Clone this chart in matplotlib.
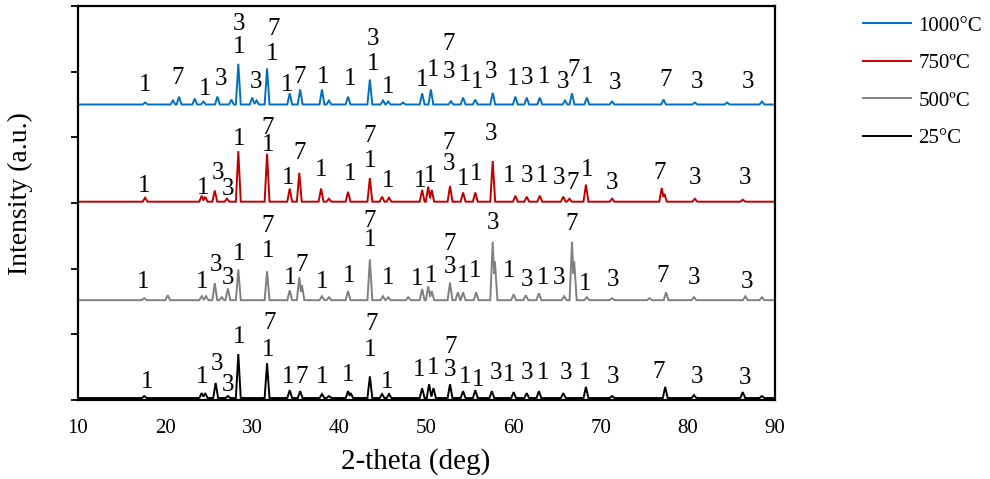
import numpy as np
import matplotlib
matplotlib.use("Agg")
import matplotlib.pyplot as plt

plt.rcParams['font.family'] = ['Liberation Serif', 'DejaVu Serif']

# ---------------- data ----------------
series_names = ["1000°C", "750ºC", "500ºC", "25°C"]
series_colors = ["#0070C0", "#C00000", "#808080", "#000000"]
series_base = [4.50, 3.02, 1.52, 0.03]

# peak positions (2-theta) and heights (a.u. above each trace's baseline)
blue_pos = [17.7, 20.9, 21.6, 23.4, 24.4, 26.0, 27.6, 28.4, 30.0, 30.5, 31.7, 34.3, 35.5,
            38.0, 38.8, 41.0, 43.5, 45.0, 45.6, 47.3, 49.5, 50.5, 52.8, 54.2, 55.6, 57.6,
            60.2, 61.5, 63.0, 65.9, 66.7, 68.4, 71.3, 77.2, 80.8, 84.5, 88.5]
blue_h = [0.03, 0.06, 0.12, 0.09, 0.045, 0.12, 0.075, 0.62, 0.105, 0.06, 0.55, 0.17, 0.23,
          0.23, 0.06, 0.12, 0.38, 0.06, 0.045, 0.03, 0.17, 0.23, 0.05, 0.105, 0.075, 0.18,
          0.12, 0.105, 0.105, 0.06, 0.17, 0.105, 0.045, 0.075, 0.03, 0.03, 0.045]

red_pos = [17.7, 24.2, 24.6, 25.7, 27.1, 28.4, 31.7, 34.3, 35.4, 37.9, 38.8, 41.0, 43.5,
           44.9, 45.7, 49.5, 50.2, 50.6, 52.7, 54.2, 55.6, 57.6, 60.2, 61.5, 63.0, 65.7,
           66.4, 68.3, 71.3, 77.0, 77.3, 80.8, 86.3]
red_h = [0.06, 0.09, 0.075, 0.17, 0.045, 0.77, 0.73, 0.20, 0.44, 0.20, 0.045, 0.15, 0.36,
         0.075, 0.06, 0.18, 0.23, 0.18, 0.24, 0.14, 0.14, 0.62, 0.09, 0.075, 0.09, 0.075,
         0.045, 0.26, 0.045, 0.21, 0.12, 0.045, 0.03]

gray_pos = [17.6, 20.3, 24.2, 24.7, 25.7, 26.5, 27.2, 28.4, 31.7, 34.3, 35.4, 35.7, 38.0,
            38.8, 41.0, 43.5, 45.0, 45.6, 47.9, 49.5, 50.2, 50.6, 52.7, 53.6, 54.2, 55.7,
            57.6, 57.85, 60.0, 61.4, 62.9, 65.8, 66.7, 66.95, 68.4, 71.3, 75.6, 77.5, 80.7,
            86.6, 88.5]
gray_h = [0.03, 0.075, 0.06, 0.06, 0.26, 0.045, 0.18, 0.47, 0.44, 0.15, 0.35, 0.23, 0.06,
          0.045, 0.14, 0.62, 0.06, 0.045, 0.045, 0.17, 0.21, 0.14, 0.27, 0.12, 0.12, 0.12,
          0.89, 0.60, 0.09, 0.075, 0.105, 0.06, 0.89, 0.60, 0.045, 0.03, 0.03, 0.12, 0.045,
          0.06, 0.045]

black_pos = [17.6, 24.2, 24.6, 25.8, 27.2, 28.4, 31.7, 34.3, 35.5, 38.0, 38.8, 41.0, 41.3,
             43.5, 44.9, 45.7, 49.5, 50.3, 50.8, 52.7, 54.2, 55.6, 57.5, 60.0, 61.5, 62.9,
             65.7, 68.3, 71.3, 77.4, 80.7, 86.3, 88.5]
black_h = [0.03, 0.075, 0.075, 0.23, 0.03, 0.67, 0.53, 0.12, 0.105, 0.06, 0.03, 0.105, 0.075,
           0.33, 0.06, 0.06, 0.15, 0.21, 0.15, 0.21, 0.105, 0.12, 0.105, 0.09, 0.075, 0.105,
           0.075, 0.17, 0.03, 0.17, 0.045, 0.09, 0.03]

# phase labels: x (2-theta), y (a.u.), text
blue_lx = [17.69, 21.48, 24.58, 26.41, 28.48, 28.48, 30.43, 32.50, 32.27, 33.99, 35.48, 38.12,
           41.22, 43.86, 43.86, 45.58, 49.48, 50.75, 52.58, 52.58, 54.42, 55.80, 57.40, 59.93,
           61.54, 63.49, 65.67, 66.93, 68.42, 71.64, 77.49, 81.05, 86.90]
blue_ly = [4.79, 4.91, 4.73, 4.89, 5.73, 5.38, 4.85, 5.65, 5.27, 4.80, 4.92, 4.92,
           4.89, 5.50, 5.11, 4.77, 4.88, 5.03, 5.42, 5.00, 4.95, 4.85, 5.00, 4.89,
           4.91, 4.92, 4.85, 5.03, 4.92, 4.82, 4.88, 4.85, 4.85]
blue_lt = ["1", "7", "1", "3", "3", "1", "3", "7", "1", "1", "7", "1",
           "1", "3", "1", "1", "1", "1", "7", "3", "1", "1", "3", "1",
           "3", "1", "3", "7", "1", "3", "7", "3", "3"]

red_lx = [17.58, 24.35, 26.07, 27.22, 28.48, 31.81, 31.81, 34.10, 35.48, 37.89, 41.22, 43.51,
          43.51, 45.58, 49.25, 50.40, 52.58, 52.58, 54.19, 55.68, 57.40, 59.47, 61.54, 63.26,
          65.21, 66.82, 68.42, 71.29, 76.80, 80.82, 86.56]
red_ly = [3.26, 3.23, 3.45, 3.21, 3.97, 4.14, 3.89, 3.38, 3.76, 3.51, 3.44, 4.02,
          3.64, 3.33, 3.33, 3.41, 3.91, 3.59, 3.36, 3.44, 4.05, 3.41, 3.41, 3.41,
          3.38, 3.30, 3.51, 3.30, 3.45, 3.38, 3.38]
red_lt = ["1", "1", "3", "3", "1", "7", "1", "1", "7", "1", "1", "7",
          "1", "1", "1", "1", "7", "3", "1", "1", "3", "1", "3", "1",
          "3", "7", "1", "3", "7", "3", "3"]

gray_lx = [17.46, 24.23, 25.84, 27.22, 28.48, 31.81, 31.81, 34.33, 35.71, 38.01, 41.10, 43.51,
           43.51, 45.58, 48.91, 50.52, 52.70, 52.70, 54.19, 55.57, 57.63, 59.47, 61.54, 63.37,
           65.21, 66.70, 68.19, 71.41, 77.15, 80.70, 86.78]
gray_ly = [1.79, 1.79, 2.05, 1.86, 2.23, 2.65, 2.27, 1.86, 2.05, 1.79, 1.89, 2.73,
           2.44, 1.86, 1.85, 1.89, 2.38, 2.02, 1.89, 1.97, 2.70, 1.97, 1.82, 1.86,
           1.86, 2.68, 1.77, 1.82, 1.89, 1.86, 1.79]
gray_lt = ["1", "1", "3", "3", "1", "7", "1", "1", "7", "1", "1", "7",
           "1", "1", "1", "1", "7", "3", "1", "1", "3", "1", "3", "1",
           "3", "7", "1", "3", "7", "3", "3"]

black_lx = [17.92, 24.23, 25.95, 27.22, 28.48, 32.04, 31.81, 34.10, 35.71, 38.01, 41.00, 43.74,
            43.51, 45.47, 49.14, 50.75, 52.81, 52.70, 54.42, 55.91, 57.98, 59.47, 61.54, 63.37,
            66.00, 68.19, 71.41, 76.69, 81.05, 86.56]
black_ly = [0.27, 0.35, 0.55, 0.23, 0.96, 1.17, 0.76, 0.35, 0.35, 0.35, 0.38, 1.15,
            0.76, 0.27, 0.45, 0.48, 0.80, 0.45, 0.35, 0.30, 0.41, 0.38, 0.41, 0.41,
            0.41, 0.41, 0.35, 0.42, 0.35, 0.33]
black_lt = ["1", "1", "3", "3", "1", "7", "1", "1", "7", "1", "1", "7",
            "1", "1", "1", "1", "7", "3", "1", "1", "3", "1", "3", "1",
            "3", "1", "3", "7", "3", "3"]

x_ticks = [10, 20, 30, 40, 50, 60, 70, 80, 90]
x_label = "2-theta (deg)"
y_label = "Intensity (a.u.)"

# ---------------- drawing ----------------
peaks = [(blue_pos, blue_h), (red_pos, red_h), (gray_pos, gray_h), (black_pos, black_h)]
labels = [(blue_lx, blue_ly, blue_lt), (red_lx, red_ly, red_lt),
          (gray_lx, gray_ly, gray_lt), (black_lx, black_ly, black_lt)]

fig = plt.figure(figsize=(9.9, 4.79), dpi=100)
ax = fig.add_axes([78 / 990, 1 - 400 / 479, (775 - 78) / 990, (400 - 6) / 479])

grid = np.arange(10.0, 90.0001, 0.02)
half_w = 0.28
for (pos, h), base, col, name in zip(peaks, series_base, series_colors, series_names):
    prof = np.zeros_like(grid)
    for p, hh in zip(pos, h):
        prof = np.maximum(prof, hh * np.clip(1 - np.abs(grid - p) / half_w, 0, None))
    ax.plot(grid, base + prof, color=col, lw=1.4, label=name, solid_joinstyle='miter')

for (lx, ly, lt) in labels:
    for x, y, t in zip(lx, ly, lt):
        ax.text(x, y, t, fontsize=18, ha='center', va='center', color='black', clip_on=False)

ax.set_xlim(10, 90)
ax.set_ylim(0, 6)
ax.set_xticks(x_ticks)
ax.set_xticklabels([str(v) for v in x_ticks], fontsize=15)
ax.set_yticks(range(0, 7))
ax.set_yticklabels([])
ax.tick_params(axis='x', length=0, pad=14)
ax.tick_params(axis='y', length=5, width=1.3, direction='out')
for s in ax.spines.values():
    s.set_linewidth(1.6)
ax.set_xlabel(x_label, fontsize=21)
ax.xaxis.set_label_coords((416 - 78) / 697, -0.122)
ax.set_ylabel(y_label, fontsize=20)
ax.yaxis.set_label_coords(-0.064, 0.525)

leg = fig.legend(loc='upper left', bbox_to_anchor=(863 / 990, 1 - 16 / 479),
                 frameon=False, fontsize=15, handlelength=2.3, handletextpad=0.35,
                 labelspacing=0.86, borderaxespad=0, borderpad=0)

fig.savefig("out.png", dpi=100)
